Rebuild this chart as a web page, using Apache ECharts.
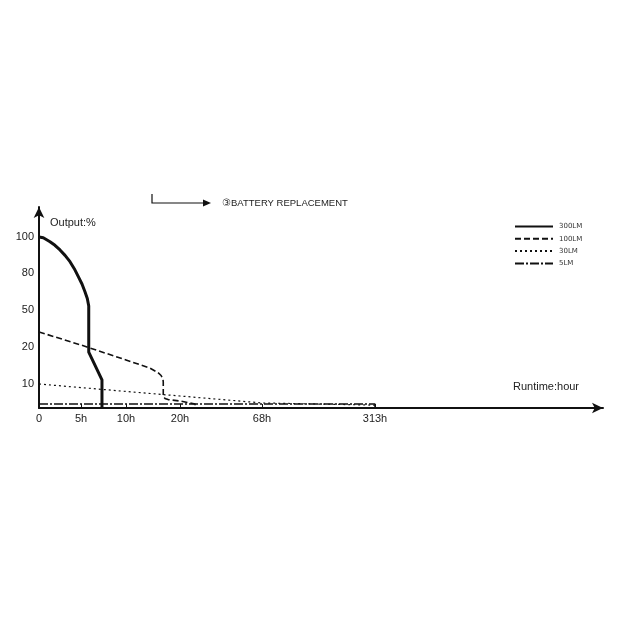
<!DOCTYPE html>
<html>
<head>
<meta charset="utf-8">
<script src="https://cdn.jsdelivr.net/npm/echarts@6/dist/echarts.min.js"></script>
<style>html,body{margin:0;padding:0;background:#fff;}#c{width:625px;height:625px;}</style>
</head>
<body>
<div id="c"></div>
<script>
// ---- data (hours, output %) ----
const xTickHours = [0, 5, 10, 20, 68, 313];
const xTickLabels = ['0', '5h', '10h', '20h', '68h', '313h'];
const yTickValues = [10, 20, 50, 80, 100];
const yTickLabels = ['10', '20', '50', '80', '100'];
const seriesNames = ['300LM', '100LM', '30LM', '5LM'];
const lm300 = [[0,100],[0.51,99.6],[1.31,97.4],[1.90,95.4],[2.5,92.8],[3.1,89.8],[3.69,86.3],[4.2,82.4],[4.68,77.0],[5.11,71.1],[5.44,64.8],[5.70,59.4],[5.86,53.2],[5.86,18.6],[7.33,11.1],[7.33,0]];
const lm100 = [[0,32.2],[5,21.6],[10,16.5],[14.4,14.3],[15.9,13.1],[16.5,12.3],[16.85,11.3],[16.9,10.5],[16.9,5.0],[17.2,4.0],[17.8,3.5],[20,2.9],[28.8,1.7],[28.8,0]];
const lm30 = [[0,10],[5,8.5],[10,6.9],[20,5.0],[68,2.1],[313,1.2]];
const lm5 = [[0,1.7],[313,1.7],[313,0]];

// ---- schematic (non-linear) axis scales: value -> axis units ----
const xScale = { knots: [0, 5, 10, 20, 68, 313], units: [0, 42, 87, 141, 223, 336], max: 564 };
const yScale = { knots: [0, 10, 20, 50, 80, 100], units: [0, 24, 61, 98, 135, 171], max: 201 };
function mapVal(v, s) {
  const k = s.knots, u = s.units;
  let i = 0;
  while (i < k.length - 2 && v > k[i + 1]) i++;
  return u[i] + (v - k[i]) / (k[i + 1] - k[i]) * (u[i + 1] - u[i]);
}
const toXY = arr => arr.map(p => [mapVal(p[0], xScale), mapVal(p[1], yScale)]);
const xLabelPos = xTickHours.map(h => mapVal(h, xScale));
const yLabelPos = yTickValues.map(v => mapVal(v, yScale));
function labelFor(pos, positions, labels) {
  for (let i = 0; i < positions.length; i++) if (Math.abs(positions[i] - pos) < 0.01) return labels[i];
  return '';
}

const font = 'Liberation Sans, Arial, sans-serif';
const ink = '#111';
const chart = echarts.init(document.getElementById('c'), null, { renderer: 'canvas' });
chart.setOption({
  animation: false,
  backgroundColor: '#fff',
  grid: { left: 39, right: 22, top: 207, bottom: 217, containLabel: false },
  xAxis: {
    type: 'value', min: 0, max: xScale.max,
    splitLine: { show: false },
    axisLine: { show: true, lineStyle: { color: ink, width: 2 }, symbol: ['none', 'arrow'], symbolSize: [8, 11], symbolOffset: [0, 0] },
    axisTick: { show: true, inside: true, length: 4, lineStyle: { color: ink, width: 1 }, customValues: xLabelPos.slice(1) },
    axisLabel: { show: true, margin: 5, fontSize: 11, color: '#222', fontFamily: font,
      customValues: xLabelPos, formatter: v => labelFor(v, xLabelPos, xTickLabels) }
  },
  yAxis: {
    type: 'value', min: 0, max: yScale.max,
    splitLine: { show: false },
    axisLine: { show: true, lineStyle: { color: ink, width: 2 }, symbol: ['none', 'arrow'], symbolSize: [8, 11], symbolOffset: [0, 0] },
    axisTick: { show: false },
    axisLabel: { show: true, margin: 5, fontSize: 11, color: '#222', fontFamily: font,
      customValues: yLabelPos, formatter: v => labelFor(v, yLabelPos, yTickLabels) }
  },
  legend: {
    orient: 'vertical', left: 514, top: 223, padding: 0,
    itemWidth: 38, itemHeight: 8, itemGap: 5.3,
    itemStyle: { opacity: 0 },
    textStyle: { fontSize: 7, color: '#333', fontFamily: 'DejaVu Sans, sans-serif', padding: [0, 0, 0, 1] },
    data: seriesNames
  },
  series: [
    { name: seriesNames[0], type: 'line', data: toXY(lm300), symbol: 'none', z: 5,
      lineStyle: { color: ink, width: 3, type: 'solid', join: 'round' } },
    { name: seriesNames[1], type: 'line', data: toXY(lm100), symbol: 'none', z: 4,
      lineStyle: { color: ink, width: 1.6, type: [6, 3] } },
    { name: seriesNames[2], type: 'line', data: toXY(lm30), symbol: 'none', z: 3,
      lineStyle: { color: ink, width: 1.2, type: [2, 3] } },
    { name: seriesNames[3], type: 'line', data: toXY(lm5), symbol: 'none', z: 3,
      lineStyle: { color: ink, width: 1.5, type: [9, 2, 2, 2] } }
  ],
  graphic: [
    { type: 'text', left: 50, top: 217, style: { text: 'Output:%', fontSize: 11, fill: '#222', fontFamily: font } },
    { type: 'text', left: 513, top: 381, style: { text: 'Runtime:hour', fontSize: 11, fill: '#222', fontFamily: font } },
    { type: 'polyline', shape: { points: [[152, 194], [152, 203], [205, 203]] }, style: { stroke: ink, lineWidth: 1.2, fill: null } },
    { type: 'polygon', shape: { points: [[203, 199.5], [211, 203], [203, 206.5]] }, style: { fill: ink } },
    { type: 'text', left: 222, top: 198, style: { text: '③BATTERY REPLACEMENT', fontSize: 9.5, fill: '#222', fontFamily: font } }
  ]
});
</script>
</body>
</html>
